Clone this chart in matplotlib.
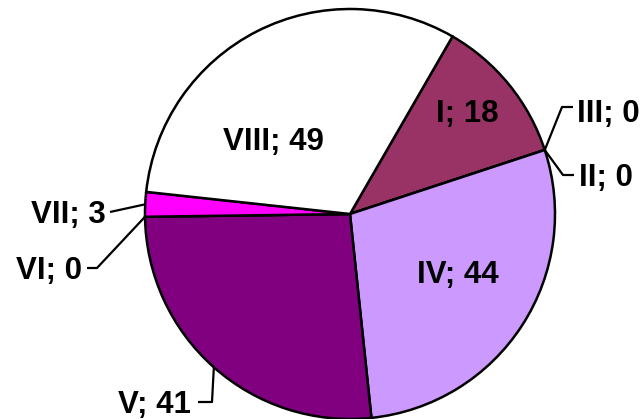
import numpy as np
import matplotlib
matplotlib.use('Agg')
import matplotlib.pyplot as plt

plt.rcParams['font.family'] = ['Liberation Sans', 'DejaVu Sans']

categories = ['I', 'II', 'III', 'IV', 'V', 'VI', 'VII', 'VIII']
values = [18, 0, 0, 44, 41, 0, 3, 49]
colors = ['#993366', '#9999FF', '#FFFFCC', '#CC99FF', '#800080', '#CCFFFF', '#FF00FF', '#FFFFFF']

W, H = 643, 419
cx, cy, R = 350, 214, 205   # pixel coords (y down)


def py(y):
    return H - y


fig = plt.figure(figsize=(W / 100, H / 100), dpi=100)
ax = fig.add_axes([0, 0, 1, 1])
wedges, _ = ax.pie(values, colors=colors, startangle=60, counterclock=False,
                   center=(cx, py(cy)), radius=R, normalize=True,
                   wedgeprops=dict(edgecolor='black', linewidth=1.8))
ax.set_xlim(0, W)
ax.set_ylim(0, H)
ax.set_aspect('auto')
ax.axis('off')

fs = 22.5
# labels inside the slices (center x, baseline y)
inside = {'I': (467, 122), 'IV': (458, 283), 'VIII': (273, 150)}
# labels outside: text anchor (x, baseline), ha, leader points after the edge point
outside = {
    'III': ((577, 122), 'left', [(562, 107), (573, 107)]),
    'II': ((579, 186), 'left', [(563, 175), (574, 175)]),
    'VII': ((106, 223), 'right', [(110, 212)]),
    'VI': ((82, 279), 'right', [(97, 268), (87, 268)]),
    'V': ((191, 413), 'right', [(212, 402), (198, 402)]),
}

for w, cat, v in zip(wedges, categories, values):
    lab = '%s; %d' % (cat, v)
    if cat in inside:
        x, y = inside[cat]
        ax.text(x, py(y), lab, ha='center', va='baseline', fontsize=fs, fontweight='bold')
    else:
        (tx, ty), ha, pts = outside[cat]
        ang = np.deg2rad((w.theta1 + w.theta2) / 2)
        ex, ey = cx + R * np.cos(ang), py(cy) + R * np.sin(ang)
        xs = [ex] + [p[0] for p in pts]
        ys = [ey] + [py(p[1]) for p in pts]
        ax.plot(xs, ys, color='black', lw=1.6, solid_capstyle='butt')
        ax.text(tx, py(ty), lab, ha=ha, va='baseline', fontsize=fs, fontweight='bold')

fig.savefig('out.png', dpi=100)
